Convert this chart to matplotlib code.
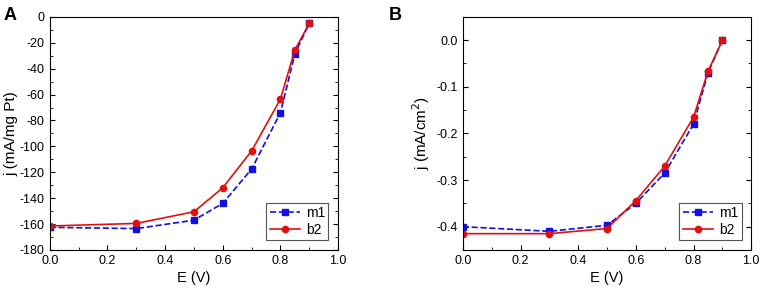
import matplotlib.pyplot as plt
from matplotlib.ticker import MultipleLocator

plt.rcParams['font.family'] = ['Liberation Sans', 'DejaVu Sans']
plt.rcParams['axes.unicode_minus'] = False

E = [0.0, 0.3, 0.5, 0.6, 0.7, 0.8, 0.85, 0.9]

# panel A: mass activity (mA/mg Pt)
m1_mass = [-162.5, -163.5, -157, -144, -117.5, -74, -28.5, -5]
b2_mass = [-161.5, -159.5, -150.5, -132, -103.5, -63.5, -25.5, -5]

# panel B: specific activity (mA/cm2)
m1_area = [-0.400, -0.410, -0.397, -0.350, -0.285, -0.180, -0.070, 0.0]
b2_area = [-0.415, -0.415, -0.404, -0.344, -0.270, -0.165, -0.067, 0.0]

fig = plt.figure(figsize=(7.65, 2.91), dpi=100)
axA = fig.add_axes([0.065, 0.141, 0.377, 0.801])
axB = fig.add_axes([0.605, 0.141, 0.377, 0.801])


def style(ax):
    ax.plot(E, m1, color='#1010e0', ls='--', marker='s', ms=4, lw=1.2, label='m1')
    ax.plot(E, b2, color='#e01010', ls='-', marker='o', ms=4.5, lw=1.2, label='b2')
    ax.set_xlim(0, 1.0)
    ax.xaxis.set_major_locator(MultipleLocator(0.2))
    ax.xaxis.set_minor_locator(MultipleLocator(0.1))
    ax.tick_params(which='both', direction='in', top=False, right=True, labelsize=9)
    ax.tick_params(which='major', length=3.5)
    ax.tick_params(which='minor', length=2)
    ax.set_xlabel('E (V)', fontsize=10.5, labelpad=3)
    for s in ax.spines.values():
        s.set_linewidth(0.8)
    leg = ax.legend(loc='lower right', fontsize=10, fancybox=False, framealpha=1,
                    edgecolor='#555555', handlelength=2.2, borderpad=0.25,
                    labelspacing=0.2, handletextpad=0.4, borderaxespad=0.7)
    leg.get_frame().set_linewidth(0.8)


m1, b2 = m1_mass, b2_mass
style(axA)
axA.set_ylim(-180, 0)
axA.yaxis.set_major_locator(MultipleLocator(20))
axA.yaxis.set_minor_locator(MultipleLocator(10))
axA.set_ylabel('j (mA/mg Pt)', fontsize=11, labelpad=1)

m1, b2 = m1_area, b2_area
style(axB)
axB.set_ylim(-0.45, 0.05)
axB.yaxis.set_major_locator(MultipleLocator(0.1))
axB.yaxis.set_minor_locator(MultipleLocator(0.05))
axB.set_ylabel('j (mA/cm$^2$)', fontsize=11, labelpad=3)

fig.text(0.004, 0.93, 'A', fontsize=13, fontweight='bold')
fig.text(0.508, 0.93, 'B', fontsize=13, fontweight='bold')

fig.savefig('out.png', dpi=100)
